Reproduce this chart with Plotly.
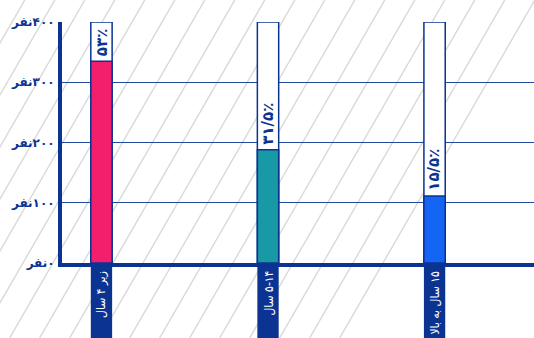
import plotly.graph_objects as go
import math

RLM = "\u200f"
categories = ["زیر ۴ سال", "۵-۱۴ سال", "۱۵ سال به بالا"]
values = [335, 188, 111]
max_value = 400
pct_labels = ["۵۳٪", "۳۱/۵٪", "۱۵/۵٪"]
bar_colors = ["#F41F6C", "#1899A6", "#1565F5"]
tick_vals = [0, 100, 200, 300, 400]
tick_text = ["۰نفر", "۱۰۰نفر", "۲۰۰نفر", "۳۰۰نفر", "۴۰۰نفر"]

NAVY = "#0B3391"
W, H = 534, 338
ML, MR, MT, MB = 62, 0, 22, 75
PW, PH = W - ML - MR, H - MT - MB
bar_w = 0.128
x = list(range(len(categories)))

fig = go.Figure()
fig.add_trace(go.Bar(x=x, y=[max_value] * len(x), width=bar_w,
                     marker=dict(color="white", line=dict(color=NAVY, width=1.5)),
                     cliponaxis=False, hoverinfo="skip"))
fig.add_trace(go.Bar(x=x, y=values, width=bar_w,
                     marker=dict(color=bar_colors, line=dict(color=NAVY, width=1.5)),
                     cliponaxis=False))

shapes = []
def px2paper(px, py):
    return (px - ML) / PW, (H - MB - py) / PH
k = 1 / math.tan(math.radians(60))
c = 24.8 - 30 * 8
while c < W + 30:
    x0p, y0p = px2paper(c - H * k - 5 * k, H + 5)
    x1p, y1p = px2paper(c + 5 * k, -5)
    shapes.append(dict(type="line", xref="paper", yref="paper", x0=x0p, y0=y0p, x1=x1p, y1=y1p,
                       line=dict(color="#D9D9D9", width=1.4), layer="below"))
    c += 30

for i in x:
    shapes.append(dict(type="rect", xref="x", yref="paper", x0=i - bar_w / 2, x1=i + bar_w / 2,
                       y0=-3 / PH, y1=-(MB + 5) / PH, fillcolor=NAVY, line=dict(width=0), layer="above"))

annotations = []
for i in x:
    annotations.append(dict(x=i, y=0, xref="x", yref="paper", text=RLM + categories[i], showarrow=False,
                            textangle=-90, yanchor="top", xanchor="center", yshift=-6,
                            font=dict(family="DejaVu Sans Condensed", size=12, color="white")))
    annotations.append(dict(x=i, y=values[i], xref="x", yref="y", text=RLM + pct_labels[i], showarrow=False,
                            textangle=-90, yanchor="bottom", xanchor="center", yshift=3,
                            font=dict(family="DejaVu Sans", size=15, color=NAVY, weight="bold")))

fig.update_layout(
    width=W, height=H, margin=dict(l=ML, r=MR, t=MT, b=MB),
    paper_bgcolor="white", plot_bgcolor="rgba(0,0,0,0)",
    barmode="overlay", showlegend=False, shapes=shapes, annotations=annotations,
    font=dict(family="DejaVu Sans", color=NAVY),
)
fig.update_xaxes(range=[-0.237, 2.597], showticklabels=False, showgrid=False, zeroline=False,
                 showline=True, linecolor=NAVY, linewidth=4, ticks="")
fig.update_yaxes(range=[0, max_value], tickvals=tick_vals, ticktext=[RLM + t for t in tick_text],
                 showgrid=True, gridcolor="#1F4A9E", gridwidth=1.2, zeroline=False,
                 showline=True, linecolor=NAVY, linewidth=4, ticks="", ticklabelstandoff=1,
                 tickfont=dict(family="DejaVu Sans", size=12, color=NAVY, weight="bold"))

fig.write_html("out.html")
